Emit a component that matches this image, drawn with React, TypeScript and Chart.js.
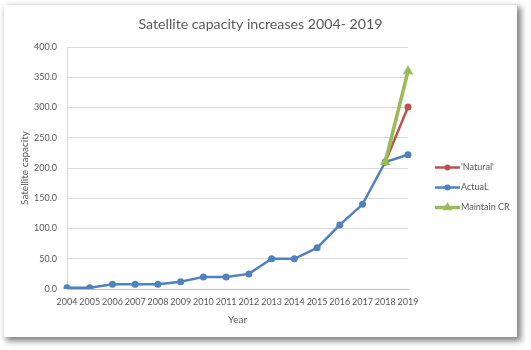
import React, { useEffect, useRef } from "react";
import { Chart, registerables } from "chart.js";

Chart.register(...registerables);

const years = ["2004","2005","2006","2007","2008","2009","2010","2011","2012","2013","2014","2015","2016","2017","2018","2019"];
const actual = [2, 2, 8, 8, 8, 12, 20, 20, 25, 50, 50, 68, 106, 140, 210, 222];
const natural = [null, null, null, null, null, null, null, null, null, null, null, null, null, null, 210, 301];
const maintainCR = [null, null, null, null, null, null, null, null, null, null, null, null, null, null, 210, 360];
const seriesNames = ["'Natural'", "ActuaL", "Maintain CR"];
const titleText = "Satellite capacity increases 2004- 2019";
const xTitle = "Year";
const yTitle = "Satellite capacity";

const RED = "#C0504D";
const BLUE = "#4F81BD";
const GREEN = "#9BBB59";
const TEXT = "#595959";
const FONT = "Lato";

const W = 513;
const H = 332;

const legendPlugin = {
  id: "excelLegend",
  afterDraw(chart: any) {
    const ctx = chart.ctx;
    const items = [
      { name: seriesNames[0], color: RED, width: 2.5, marker: "circle" },
      { name: seriesNames[1], color: BLUE, width: 2.5, marker: "circle" },
      { name: seriesNames[2], color: GREEN, width: 3.5, marker: "triangle" },
    ];
    const x0 = 431;
    const x1 = 456;
    const ys = [162.5, 182.5, 202.5];
    ctx.save();
    items.forEach((it, i) => {
      const y = ys[i];
      ctx.strokeStyle = it.color;
      ctx.lineWidth = it.width;
      ctx.beginPath();
      ctx.moveTo(x0, y);
      ctx.lineTo(x1, y);
      ctx.stroke();
      const cx = (x0 + x1) / 2;
      ctx.fillStyle = it.color;
      ctx.beginPath();
      if (it.marker === "circle") {
        ctx.arc(cx, y, 3, 0, Math.PI * 2);
      } else {
        const r = 5.5;
        ctx.moveTo(cx, y - r);
        ctx.lineTo(cx + r * Math.sin((2 * Math.PI) / 3), y - r * Math.cos((2 * Math.PI) / 3));
        ctx.lineTo(cx + r * Math.sin((4 * Math.PI) / 3), y - r * Math.cos((4 * Math.PI) / 3));
        ctx.closePath();
      }
      ctx.fill();
      ctx.fillStyle = TEXT;
      ctx.font = `9px ${FONT}`;
      ctx.textBaseline = "middle";
      ctx.textAlign = "left";
      ctx.fillText(it.name, x1 + 1, y);
    });
    ctx.restore();
  },
};

export default function App() {
  const ref = useRef<HTMLCanvasElement | null>(null);

  useEffect(() => {
    if (!ref.current) return;
    const chart = new Chart(ref.current, {
      type: "line",
      data: {
        labels: years,
        datasets: [
          {
            label: seriesNames[0],
            data: natural,
            borderColor: RED,
            backgroundColor: RED,
            borderWidth: 2.5,
            pointRadius: 3.5,
            pointStyle: "circle",
            pointBorderWidth: 0,
            tension: 0,
            order: 2,
          },
          {
            label: seriesNames[1],
            data: actual,
            borderColor: BLUE,
            backgroundColor: BLUE,
            borderWidth: 2.5,
            pointRadius: 3.5,
            pointStyle: "circle",
            pointBorderWidth: 0,
            tension: 0,
            order: 1,
          },
          {
            label: seriesNames[2],
            data: maintainCR,
            borderColor: GREEN,
            backgroundColor: GREEN,
            borderWidth: 3.5,
            pointRadius: 6,
            pointStyle: "triangle",
            pointBorderWidth: 0,
            tension: 0,
            order: 0,
          },
        ],
      },
      options: {
        responsive: false,
        animation: false,
        devicePixelRatio: 1,
        layout: { padding: 0 },
        plugins: {
          legend: { display: false },
          tooltip: { enabled: false },
          title: {
            display: true,
            text: titleText,
            color: TEXT,
            font: { family: FONT, size: 14.2, weight: "normal" },
            padding: { top: 11, bottom: 14 },
          },
        },
        scales: {
          x: {
            type: "category",
            offset: false,
            grid: { display: false, drawTicks: false },
            border: { display: true, color: "#BFBFBF", width: 1 },
            ticks: {
              autoSkip: false,
              maxRotation: 0,
              minRotation: 0,
              padding: 8,
              color: TEXT,
              font: { family: FONT, size: 9 },
            },
            title: {
              display: true,
              text: xTitle,
              color: TEXT,
              font: { family: FONT, size: 10 },
              padding: { top: 0, bottom: 11 },
            },
            afterFit: (s: any) => {
              s.height = 48;
            },
          },
          y: {
            min: 0,
            max: 400,
            ticks: {
              stepSize: 50,
              padding: 10,
              color: TEXT,
              font: { family: FONT, size: 9 },
              callback: (v: any) => Number(v).toFixed(1),
            },
            grid: { color: "#D9D9D9", drawTicks: false },
            border: { display: true, color: "#D9D9D9" },
            title: {
              display: true,
              text: yTitle,
              color: TEXT,
              font: { family: FONT, size: 10 },
              padding: { top: 15, bottom: 0 },
            },
            afterFit: (s: any) => {
              s.width = 63;
            },
          },
          legendSpace: {
            type: "linear",
            position: "right",
            display: true,
            grid: { display: false, drawTicks: false },
            border: { display: false },
            ticks: { display: false },
            afterFit: (s: any) => {
              s.width = 109;
            },
          },
        },
      },
      plugins: [legendPlugin],
    } as any);
    return () => chart.destroy();
  }, []);

  return (
    <div style={{ position: "fixed", left: 0, top: 0, width: 531, height: 350, background: "#fff" }}>
      <div
        style={{
          position: "absolute",
          left: 4,
          top: 5,
          width: W,
          height: H,
          background: "#fff",
          boxShadow: "3px 3px 6px 1px rgba(0,0,0,0.5)",
        }}
      >
        <canvas ref={ref} width={W} height={H} style={{ display: "block", width: W, height: H }} />
      </div>
    </div>
  );
}
